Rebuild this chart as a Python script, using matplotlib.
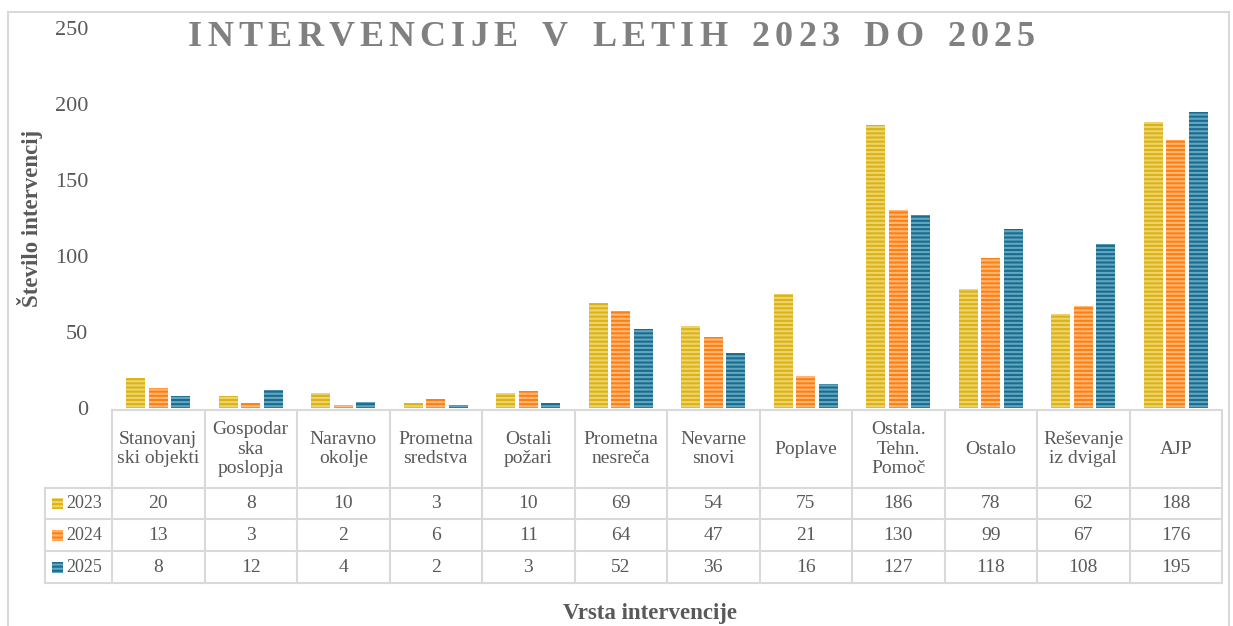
import numpy as np
import matplotlib
matplotlib.use("Agg")
from matplotlib import pyplot as plt
from matplotlib.patches import Rectangle
from matplotlib.lines import Line2D

# podatki
kategorije = ["Stanovanj\nski objekti", "Gospodar\nska\nposlopja", "Naravno\nokolje",
              "Prometna\nsredstva", "Ostali\npožari", "Prometna\nnesreča", "Nevarne\nsnovi",
              "Poplave", "Ostala.\nTehn.\nPomoč", "Ostalo", "Reševanje\niz dvigal", "AJP"]
leta = ["2023", "2024", "2025"]
v2023 = [20, 8, 10, 3, 10, 69, 54, 75, 186, 78, 62, 188]
v2024 = [13, 3, 2, 6, 11, 64, 47, 21, 130, 99, 67, 176]
v2025 = [8, 12, 4, 2, 3, 52, 36, 16, 127, 118, 108, 195]
vrednosti = [v2023, v2024, v2025]

barve = ["#D9B414", "#FF7F0E", "#1B6B8C"]      # osnovna barva
crte = ["#EFD36E", "#FFB77A", "#62A7C2"]       # svetlejse crte
tekst = "#595959"

plt.rcParams["font.family"] = ["Liberation Serif", "DejaVu Serif"]
plt.rcParams["hatch.linewidth"] = 1.5

W, H = 1233, 626
fig = plt.figure(figsize=(W / 100, H / 100), dpi=100)

def px(x, y):
    # piksli (od zgoraj levo) -> deli slike
    return x / W, 1 - y / H

# glavni okvir
fig.patches.append(Rectangle(px(8, 640), (1229 - 8) / W, (640 - 12) / H, transform=fig.transFigure,
                             fill=False, edgecolor="#D9D9D9", linewidth=1.5))

left, right, top, bottom = 112, 1222, 28, 408
ax = fig.add_axes([left / W, 1 - bottom / H, (right - left) / W, (bottom - top) / H])

n = len(kategorije)
x = np.arange(n)
sirina = 0.205
korak = 0.241
for i in range(3):
    ax.bar(x + (i - 1) * korak, vrednosti[i], width=sirina, color=barve[i],
           edgecolor=crte[i], linewidth=0, hatch="----")

ax.set_xlim(-0.5, n - 0.5)
ax.set_ylim(0, 250)
ax.set_yticks(np.arange(0, 251, 50))
ax.tick_params(axis="y", length=0, pad=17, labelsize=16, labelcolor=tekst)
ax.set_xticks([])
for s in ax.spines.values():
    s.set_visible(False)

# naslova osi
fig.text(*px(30, 218), "Število intervencij", rotation=90, ha="center", va="center",
         fontsize=16.5, fontweight="bold", color=tekst)
fig.text(*px(650, 613), "Vrsta intervencije", ha="center", va="center",
         fontsize=16.5, fontweight="bold", color=tekst)

# naslov z razmaknjenimi crkami
naslov = "INTERVENCIJE V LETIH 2023 DO 2025"
renderer = fig.canvas.get_renderer()
sirine = []
for c in naslov:
    t = fig.text(0, 0, c if c != " " else "I", fontsize=26, fontweight="bold")
    sirine.append(t.get_window_extent(renderer).width)
    t.remove()
x0, x1 = 188, 1035
dodatek = (x1 - x0 - sum(sirine)) / (len(naslov) - 1)
xp = x0
for c, w in zip(naslov, sirine):
    fig.text(*px(xp, 37), c, fontsize=26, fontweight="bold", color="#808080", va="center", ha="left")
    xp += w + dodatek

# tabela s podatki
siva = "#D9D9D9"
col = (right - left) / n
vrstice = [410, 488, 519, 551, 583]
def crta(xa, ya, xb, yb):
    (fx0, fy0), (fx1, fy1) = px(xa, ya), px(xb, yb)
    fig.lines.append(Line2D([fx0, fx1], [fy0, fy1], transform=fig.transFigure, color=siva, linewidth=1.5))

crta(left, 410, right, 410)
for y in vrstice[1:]:
    crta(45, y, right, y)
crta(45, 488, 45, 583)
for j in range(n + 1):
    crta(left + j * col, 410, left + j * col, 583)

for j, k in enumerate(kategorije):
    fig.text(*px(left + (j + 0.5) * col, 449), k, ha="center", va="center", fontsize=14,
             color=tekst, linespacing=1.2)

for i in range(3):
    yc = (vrstice[i + 1] + vrstice[i + 2]) / 2
    fig.patches.append(Rectangle(px(52, yc + 5.5), 11 / W, 11 / H, transform=fig.transFigure,
                                 facecolor=barve[i], edgecolor=crte[i], linewidth=0, hatch="----"))
    fig.text(*px(66, yc), leta[i], ha="left", va="center", fontsize=13, color=tekst)
    for j in range(n):
        fig.text(*px(left + (j + 0.5) * col, yc), str(vrednosti[i][j]), ha="center", va="center",
                 fontsize=14, color=tekst)

fig.savefig("out.png", dpi=100)
